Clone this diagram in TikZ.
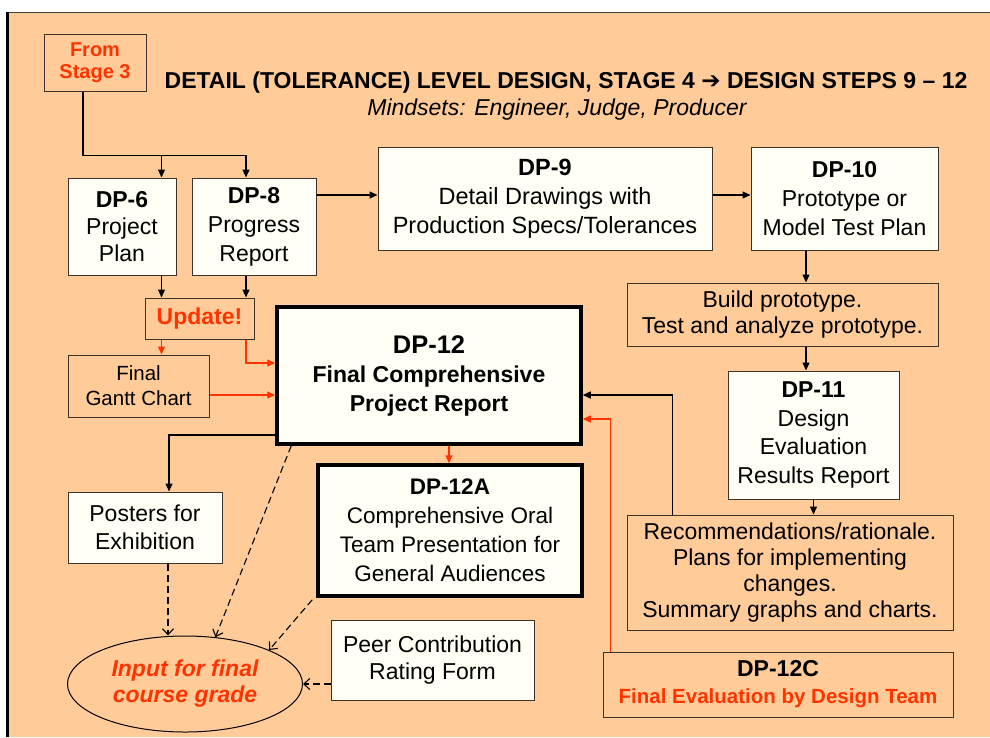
\documentclass[tikz,border=0pt]{standalone}
\usepackage{fontspec}
\setmainfont{Liberation Sans}
\newfontfamily\arrowfont{DejaVu Sans}
\usetikzlibrary{arrows.meta,calc,shapes.geometric}
\definecolor{peach}{RGB}{255,204,153}
\definecolor{ivory}{RGB}{255,255,246}
\definecolor{signal}{RGB}{255,51,0}
\definecolor{edge}{RGB}{60,50,40}

\begin{document}
\begin{tikzpicture}[x=1pt,y=-1pt,
  box/.style={draw=edge, line width=1pt, inner sep=0pt, align=center,
    font=\fontsize{23}{27}\selectfont},
  paper/.style={box, fill=ivory},
  tan/.style={box, fill=peach},
  heavy/.style={paper, draw=black, line width=3.5pt},
  link/.style={line width=1.2pt, -{Triangle[length=8pt,width=7pt]}},
  redlink/.style={link, draw=signal},
  hint/.style={line width=1.1pt, dash pattern=on 7pt off 4pt,
    -{Straight Barb[length=6pt,width=11pt]}},
]
\useasboundingbox (0,0) rectangle (990,737);

% sheet and frame
\fill[white] (0,0) rectangle (990,737);
\fill[peach] (7,12) rectangle (990,737);
\draw[black!75, line width=1.5pt] (6,12.5) -- (990,12.5);
\draw[black, line width=3pt] (7.5,12) -- (7.5,737);

% heading
\node[font=\fontsize{23}{27}\selectfont\bfseries] (title) at (566,83)
  {DETAIL (TOLERANCE) LEVEL DESIGN, STAGE 4 {\arrowfont\bfseries ➔} DESIGN STEPS 9 – 12};
\node[font=\fontsize{23}{27}\selectfont\itshape] (sub) at (557,110)
  {Mindsets: Engineer, Judge, Producer};

% boxes
\node[tan, minimum width=102pt, minimum height=57pt,
  font=\fontsize{20}{22}\selectfont\bfseries, text=signal] (s3) at (95,62.5) {From\\Stage 3};
\node[paper, minimum width=108pt, minimum height=97pt] (dp6) at (122,226.5)
  {\textbf{DP-6}\\Project\\Plan};
\node[paper, minimum width=124pt, minimum height=97pt,
  font=\fontsize{23}{29}\selectfont] (dp8) at (254,226.5)
  {\textbf{DP-8}\\Progress\\Report};
\node[paper, minimum width=334pt, minimum height=103pt,
  font=\fontsize{23.5}{29}\selectfont] (dp9) at (545,198.5)
  {\textbf{DP-9}\\Detail Drawings with\\Production Specs/Tolerances};
\node[paper, minimum width=187pt, minimum height=103pt,
  font=\fontsize{23}{29}\selectfont] (dp10) at (844.5,198.5)
  {\textbf{DP-10}\\Prototype or\\Model Test Plan};
\node[tan, minimum width=109pt, minimum height=41pt,
  font=\fontsize{23}{27}\selectfont\bfseries, text=signal] (upd) at (199.5,318.5) {Update!};
\node[tan, minimum width=141pt, minimum height=62pt,
  font=\fontsize{20.5}{25}\selectfont] (gantt) at (138.5,386) {Final\\Gantt Chart};
\node[heavy, minimum width=304pt, minimum height=137pt,
  font=\fontsize{23}{29}\selectfont\bfseries] (dp12) at (429,375.5)
  {{\fontsize{25.5}{29}\selectfont DP-12}\\Final Comprehensive\\Project Report};
\node[tan, minimum width=311pt, minimum height=63pt,
  font=\fontsize{23}{26}\selectfont] (build) at (782.5,314.5)
  {Build prototype.\\Test and analyze prototype.};
\node[paper, minimum width=171pt, minimum height=128pt,
  font=\fontsize{23}{28.5}\selectfont] (dp11) at (813.5,435)
  {\textbf{DP-11}\\Design\\Evaluation\\Results Report};
\node[tan, minimum width=326pt, minimum height=115pt,
  font=\fontsize{23}{26}\selectfont] (recs) at (790,572.5)
  {Recommendations/rationale.\\Plans for implementing\\changes.\\Summary graphs and charts.};
\node[tan, minimum width=350pt, minimum height=65pt,
  font=\fontsize{20.5}{27}\selectfont\bfseries] (dp12c) at (778,684.5)
  {{\fontsize{23}{27}\selectfont DP-12C}\\\textcolor{signal}{Final Evaluation by Design Team}};
\node[paper, minimum width=154pt, minimum height=71pt,
  font=\fontsize{23}{28}\selectfont] (post) at (145,527.5) {Posters for\\Exhibition};
\node[heavy, minimum width=264pt, minimum height=131pt,
  font=\fontsize{22.5}{29}\selectfont] (dp12a) at (450,530.5)
  {\textbf{DP-12A}\\Comprehensive Oral\\Team Presentation for\\General Audiences};
\node[paper, minimum width=203pt, minimum height=80pt,
  font=\fontsize{23}{27}\selectfont] (peer) at (432.5,660) {Peer Contribution\\Rating Form};
\node[ellipse, draw=black, line width=1pt, fill=peach, minimum width=235pt,
  minimum height=96pt, inner sep=0pt, align=center,
  font=\fontsize{23}{26}\selectfont\bfseries\itshape, text=signal] (grade) at (185,684)
  {Input for final\\course grade};

% connectors, top left
\coordinate (s3out) at ($(s3.south)+(-12,0)$);
\coordinate (fork) at ($(s3out)+(0,64)$);
\coordinate (in6) at ($(dp6.north east)+(-15,0)$);
\coordinate (in8) at ($(dp8.north)+(-8,0)$);
\draw[link] (s3out) |- (in8 |- fork) -- (in8);
\draw[link] (in6 |- fork) -- (in6);
\draw[link] (in6 |- dp6.south) -- (in6 |- upd.north);
\draw[link] (in8 |- dp8.south) -- (in8 |- upd.north);
\draw[redlink] (in6 |- upd.south) -- (in6 |- gantt.north);
\coordinate (u12) at ($(dp12.west)+(0,-12.5)$);
\draw[redlink] (in8 |- upd.south) |- (u12);
\coordinate (gq) at ($(gantt.east)+(0,9)$);
\draw[redlink] (gq) -- (gq -| dp12.west);

% connectors, top row
\coordinate (p8) at ($(dp8.east)+(0,-31.5)$);
\draw[link] (p8) -- (p8 -| dp9.west);
\draw[link] (p8 -| dp9.east) -- (p8 -| dp10.west);

% connectors, right column
\coordinate (c10) at ($(dp10.south)+(-38.5,0)$);
\draw[link] (c10) -- (c10 |- build.north);
\draw[link] (c10 |- build.south) -- (c10 |- dp11.north);
\draw[link] (dp11.south) -- (dp11.south |- recs.north);
\coordinate (rq) at ($(recs.north west)+(46,0)$);
\coordinate (r12) at ($(dp12.east)+(0,19.5)$);
\draw[link] (rq) |- (r12);
\coordinate (cq) at ($(dp12c.north west)+(8,0)$);
\coordinate (c12) at ($(dp12.east)+(0,43.5)$);
\draw[redlink] (cq) |- (c12);

% connectors below the report
\coordinate (d12) at ($(dp12.south)+(20,0)$);
\draw[redlink] (d12) -- (d12 |- dp12a.north);
\coordinate (pq) at ($(dp12.west)+(0,59.5)$);
\coordinate (pn) at ($(post.north)+(24,0)$);
\draw[link] (pq) -| (pn);

% inputs to the course grade
\coordinate (pd) at ($(post.south)+(23,0)$);
\draw[hint] (pd) -- (pd |- grade.north);
\draw[hint] ($(dp12.south west)+(16,0)$) -- (grade.57);
\draw[hint] ($(dp12a.south west)+(-4,2)$) -- (grade.22);
\draw[hint] (peer.west |- grade.east) -- (grade.east);
\end{tikzpicture}
\end{document}
